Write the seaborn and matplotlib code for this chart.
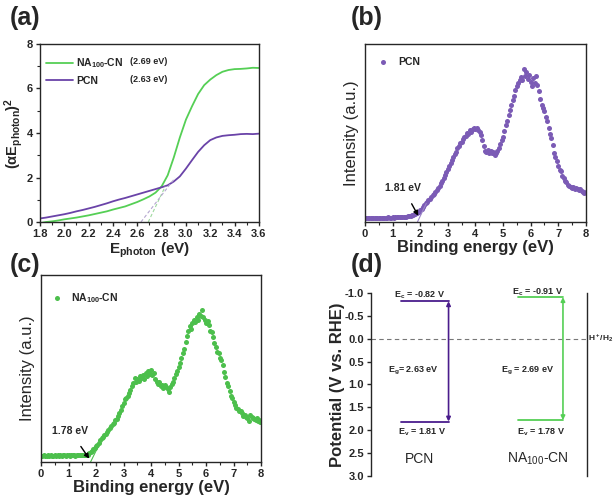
import numpy as np
import pandas as pd
import matplotlib
matplotlib.use("Agg")
import matplotlib.pyplot as plt
import seaborn as sns

sns.set_style("ticks")
plt.rcParams['font.family'] = ['Liberation Sans', 'DejaVu Sans']
plt.rcParams['mathtext.fontset'] = 'custom'
plt.rcParams['mathtext.rm'] = 'Liberation Sans:bold'
plt.rcParams['mathtext.bf'] = 'Liberation Sans:bold'
plt.rcParams['mathtext.it'] = 'Liberation Sans:bold'
plt.rcParams['mathtext.sf'] = 'Liberation Sans'
plt.rcParams['axes.linewidth'] = 1.0

# ---------------- data ----------------
# (a) Tauc plot
e_photon = [1.80, 1.85, 1.90, 1.95, 2.00, 2.05, 2.10, 2.15, 2.20, 2.25, 2.30, 2.35,
            2.40, 2.45, 2.50, 2.55, 2.60, 2.65, 2.70, 2.75, 2.80, 2.85, 2.90, 2.95,
            3.00, 3.05, 3.10, 3.15, 3.20, 3.25, 3.30, 3.35, 3.40, 3.45, 3.50, 3.55, 3.60]
tauc_na = [-0.05, 0.00, 0.03, 0.07, 0.12, 0.16, 0.20, 0.25, 0.30, 0.36, 0.42, 0.48,
           0.56, 0.63, 0.70, 0.80, 0.90, 1.02, 1.15, 1.32, 1.60, 2.10, 2.90, 3.80,
           4.60, 5.20, 5.75, 6.15, 6.40, 6.60, 6.75, 6.83, 6.87, 6.88, 6.90, 6.93, 6.92]
tauc_pcn = [0.16, 0.20, 0.25, 0.30, 0.35, 0.41, 0.48, 0.54, 0.61, 0.68, 0.76, 0.84,
            0.93, 1.01, 1.08, 1.16, 1.24, 1.32, 1.40, 1.48, 1.56, 1.65, 1.82, 2.05,
            2.40, 2.78, 3.15, 3.45, 3.68, 3.80, 3.87, 3.90, 3.92, 3.95, 3.96, 3.95, 3.97]
tan_na_x = [2.69, 2.83]
tan_na_y = [0.0, 1.6]
tan_pcn_x = [2.63, 2.91]
tan_pcn_y = [0.0, 1.98]

# (b)/(c) VB-XPS
binding = [round(0.05 * i, 2) for i in range(161)]
vb_pcn = [2.2, 2.0, 2.3, 2.1, 2.2, 2.4, 2.1, 2.3, 2.2, 2.5, 2.3, 2.2, 2.4, 2.3, 2.5, 2.4,
          2.3, 2.6, 2.5, 2.4, 2.6, 2.5, 2.7, 2.6, 2.8, 2.7, 2.9, 2.8, 3.0, 3.1, 3.0, 3.3,
          3.4, 3.6, 3.8, 4.0, 4.3, 4.8, 5.2, 5.8, 6.5, 7.5, 8.6, 9.8, 10.7, 11.5, 12.4, 13.0,
          14.2, 15.0, 15.8, 17.0, 18.2, 19.0, 20.5, 21.8, 23.0, 24.6, 26.5, 28.3, 30.0, 31.5,
          33.2, 35.0, 36.5, 38.0, 39.5, 41.5, 42.5, 44.5, 45.0, 46.8, 47.5, 48.5, 50.0, 49.5,
          51.5, 50.5, 52.5, 53.0, 52.0, 53.0, 51.5, 50.5, 49.0, 46.0, 42.5, 40.0, 39.5, 40.5,
          39.0, 40.0, 38.5, 39.5, 37.5, 39.0, 40.0, 41.5, 44.0, 46.0, 48.0, 51.0, 54.5, 57.0,
          60.0, 63.0, 66.0, 68.5, 71.0, 74.0, 76.5, 78.0, 79.5, 81.5, 80.0, 86.0, 82.0, 84.0,
          80.5, 82.5, 78.5, 76.5, 81.0, 78.0, 82.0, 77.0, 73.5, 69.0, 66.0, 64.0, 62.5, 59.0,
          56.5, 53.0, 49.5, 47.0, 43.0, 39.0, 36.5, 34.0, 31.5, 29.0, 28.5, 26.0, 25.0, 23.0,
          22.5, 21.0, 20.0, 19.5, 19.0, 19.5, 18.5, 19.0, 18.5, 18.0, 18.5, 17.5, 17.0, 16.5,
          17.0]
vb_na = [3.4, 3.2, 3.5, 3.3, 3.4, 3.6, 3.3, 3.5, 3.4, 3.2, 3.5, 3.4, 3.6, 3.3, 3.5, 3.4,
         3.6, 3.5, 3.3, 3.6, 3.5, 3.4, 3.7, 3.5, 3.6, 3.4, 3.7, 3.5, 3.6, 3.8, 3.6, 3.7,
         3.6, 3.6, 4.0, 4.6, 5.4, 6.0, 6.8, 7.6, 8.5, 9.3, 10.2, 11.5, 12.6, 13.3, 14.5, 15.2,
         16.3, 17.0, 18.0, 19.0, 20.2, 21.0, 22.4, 23.2, 24.5, 26.0, 28.0, 30.0, 31.5, 33.5,
         34.0, 35.5, 37.0, 38.5, 40.5, 42.0, 45.0, 43.0, 44.5, 43.5, 46.0, 45.0, 46.5, 44.5,
         47.5, 46.0, 48.5, 47.0, 49.0, 46.5, 47.5, 44.5, 43.0, 41.5, 42.5, 40.5, 41.0, 39.5,
         41.0, 40.0, 39.0, 37.5, 40.0, 41.5, 43.0, 45.0, 47.0, 48.5, 51.0, 53.0, 55.5, 58.5,
         60.5, 64.0, 67.5, 70.0, 72.5, 71.0, 74.5, 76.0, 75.0, 77.5, 76.0, 79.0, 78.0, 81.0,
         77.5, 76.0, 74.5, 75.5, 73.0, 70.0, 69.5, 67.0, 63.5, 61.5, 59.0, 58.0, 55.5, 54.5,
         52.0, 48.0, 45.5, 42.0, 40.5, 38.0, 35.5, 34.0, 32.0, 30.5, 29.0, 28.5, 27.5, 27.0,
         26.0, 24.5, 25.0, 24.0, 23.5, 22.0, 25.0, 24.0, 23.5, 23.0, 22.5, 23.5, 22.0, 21.5,
         22.5]
tan_b_x = [1.90, 2.22]
tan_b_y = [0.0, 10.5]
tan_c_x = [1.80, 2.15]
tan_c_y = [0.0, 10.5]

# (d) band structure
samples = ["PCN", "NA$_{\\mathsf{100}}$-CN"]
e_cb = [-0.82, -0.91]
e_vb = [1.81, 1.78]
e_gap = [2.63, 2.69]

# colours
GREEN = "#55CF55"
GREEN_S = "#4CBF4C"
PURPLE = "#6A43A8"
PURPLE_S = "#7B5BB5"
PURPLE_D = "#4A1C8C"

fig = plt.figure(figsize=(6.15, 5.03), dpi=100)
ax_a = fig.add_axes([0.065, 0.5586, 0.356, 0.354])
ax_b = fig.add_axes([0.5935, 0.5586, 0.359, 0.354])
ax_c = fig.add_axes([0.0667, 0.0815, 0.358, 0.372])
ax_d = fig.add_axes([0.603, 0.0537, 0.351, 0.3638])

tickkw = dict(labelsize=8, width=1.0, length=3, direction='out', pad=2)

def boldticks(ax):
    for lab in ax.get_xticklabels() + ax.get_yticklabels():
        lab.set_fontweight('bold')

# ---- (a) ----
df_a = pd.DataFrame({"E": e_photon * 2,
                     "v": tauc_na + tauc_pcn,
                     "s": ["NA$_{100}$-CN"] * len(e_photon) + ["PCN"] * len(e_photon)})
sns.lineplot(data=df_a, x="E", y="v", hue="s", palette=[GREEN, PURPLE], lw=1.3, ax=ax_a)
sns.lineplot(x=tan_na_x, y=tan_na_y, color="#9FD89F", lw=0.8, ls=(0, (3, 2)), ax=ax_a)
sns.lineplot(x=tan_pcn_x, y=tan_pcn_y, color="#B4A6CF", lw=0.8, ls=(0, (3, 2)), ax=ax_a)
ax_a.set_xlim(1.8, 3.6)
ax_a.set_ylim(0, 8)
ax_a.set_xticks(np.arange(1.8, 3.61, 0.2))
ax_a.set_yticks([0, 2, 4, 6, 8])
ax_a.set_xticks(np.arange(1.9, 3.6, 0.2), minor=True)
ax_a.set_yticks([1, 3, 5, 7], minor=True)
ax_a.tick_params(**tickkw)
ax_a.tick_params(which='minor', length=2, width=0.8)
boldticks(ax_a)
ax_a.set_xlabel("E$_{photon}$ (eV)", fontsize=11, fontweight='bold', labelpad=1)
ax_a.set_ylabel("(αE$_{photon}$)$^2$", fontsize=10.5, fontweight='bold', labelpad=1)
leg = ax_a.legend(loc='upper left', bbox_to_anchor=(0.0, 0.965), frameon=False,
                  fontsize=7.5, handlelength=2.6, handletextpad=0.3, labelspacing=0.55,
                  borderaxespad=0.2)
for t in leg.get_texts():
    t.set_fontweight('bold')
ax_a.text(0.41, 0.899, "(2.69 eV)", transform=ax_a.transAxes, fontsize=6.5,
          fontweight='bold', va='center')
ax_a.text(0.41, 0.798, "(2.63 eV)", transform=ax_a.transAxes, fontsize=6.5,
          fontweight='bold', va='center')

# ---- (b) ----
sns.scatterplot(x=binding, y=vb_pcn, color=PURPLE_S, s=13, linewidth=0, ax=ax_b)
sns.lineplot(x=tan_b_x, y=tan_b_y, color="#9C86C9", lw=0.8, ax=ax_b)
ax_b.scatter([0.65], [90], color=PURPLE_S, s=13, linewidth=0)
ax_b.text(1.2, 90, "PCN", fontsize=7.5, fontweight='bold', va='center')
ax_b.annotate("1.81 eV", xy=(1.93, 3.5), xytext=(1.38, 19), fontsize=7.5,
              fontweight='bold', ha='center', va='center',
              arrowprops=dict(arrowstyle='-|>', color='black', lw=1.0,
                              mutation_scale=7, shrinkA=6, shrinkB=0))
ax_b.set_xlim(0, 8)
ax_b.set_ylim(0, 100)
ax_b.set_yticks([])
ax_b.set_xticks(range(0, 9))
ax_b.set_xticks(np.arange(0.5, 8, 1), minor=True)
ax_b.tick_params(**tickkw)
ax_b.tick_params(which='minor', length=2, width=0.8)
boldticks(ax_b)
ax_b.set_xlabel("Binding energy (eV)", fontsize=12, fontweight='bold', labelpad=1)
ax_b.set_ylabel("Intensity (a.u.)", fontsize=12, labelpad=4)

# ---- (c) ----
sns.scatterplot(x=binding, y=vb_na, color=GREEN_S, s=13, linewidth=0, ax=ax_c)
sns.lineplot(x=tan_c_x, y=tan_c_y, color=GREEN_S, lw=0.8, ax=ax_c)
ax_c.scatter([0.58], [87.5], color=GREEN_S, s=13, linewidth=0)
ax_c.text(1.1, 87.5, "NA$_{100}$-CN", fontsize=7.5, fontweight='bold', va='center')
ax_c.annotate("1.78 eV", xy=(1.75, 1.8), xytext=(1.07, 16.4), fontsize=7.5,
              fontweight='bold', ha='center', va='center',
              arrowprops=dict(arrowstyle='-|>', color='black', lw=1.0,
                              mutation_scale=7, shrinkA=6, shrinkB=0))
ax_c.set_xlim(0, 8)
ax_c.set_ylim(0, 100)
ax_c.set_yticks([])
ax_c.set_xticks(range(0, 9))
ax_c.set_xticks(np.arange(0.5, 8, 1), minor=True)
ax_c.tick_params(**tickkw)
ax_c.tick_params(which='minor', length=2, width=0.8)
boldticks(ax_c)
ax_c.set_xlabel("Binding energy (eV)", fontsize=12, fontweight='bold', labelpad=1)
ax_c.set_ylabel("Intensity (a.u.)", fontsize=12, labelpad=4)

# ---- (d) ----
x_left = [0.14, 0.68]
x_right = [0.36, 0.89]
cols_d = [PURPLE_D, GREEN]
ax_d.axhline(0.0, color='#777777', lw=0.8, ls=(0, (4, 3)))
for i in range(2):
    sns.lineplot(x=[x_left[i], x_right[i]], y=[e_cb[i], e_cb[i]], color=cols_d[i], lw=1.3, ax=ax_d)
    sns.lineplot(x=[x_left[i], x_right[i]], y=[e_vb[i], e_vb[i]], color=cols_d[i], lw=1.3, ax=ax_d)
    ax_d.annotate("", xy=(x_right[i], e_cb[i]), xytext=(x_right[i], e_vb[i]),
                  arrowprops=dict(arrowstyle='<|-|>', color=cols_d[i], lw=1.2,
                                  mutation_scale=6, shrinkA=0, shrinkB=0))
lab_x = [0.227, 0.77]
for i in range(2):
    ax_d.text(lab_x[i], e_cb[i] - 0.12 if i == 0 else -1.02, f"E$_c$ = {e_cb[i]:.2f} V",
              fontsize=6.5, fontweight='bold', ha='center', va='center')
    ax_d.text(lab_x[i] - 0.03 - (0.013 if i == 1 else 0), 0.70,
              f"E$_g$= {e_gap[i]:.2f} eV" if i == 0 else f"E$_g$ = {e_gap[i]:.2f} eV",
              fontsize=6.5, fontweight='bold', ha='center', va='center')
    ax_d.text(lab_x[i] + 0.01 + (0.01 if i == 1 else 0), 2.04, f"E$_v$ = {e_vb[i]:.2f} V",
              fontsize=6.5, fontweight='bold', ha='center', va='center')
ax_d.text(0.227, 2.63, samples[0], fontsize=10, ha='center', va='center')
ax_d.text(0.773, 2.63, samples[1], fontsize=10, ha='center', va='center')
ax_d.text(1.008, 0.0, "H$^+$/H$_2$", fontsize=6, fontweight='bold', ha='left', va='center',
          transform=ax_d.get_yaxis_transform(), clip_on=False)
ax_d.set_xlim(0, 1)
ax_d.set_ylim(3.0, -1.0)
ax_d.set_yticks(np.arange(-1.0, 3.01, 0.5))
ax_d.set_yticklabels([f"{v:.1f}" for v in np.arange(-1.0, 3.01, 0.5)])
ax_d.set_xticks([])
ax_d.spines['top'].set_visible(False)
ax_d.spines['bottom'].set_visible(False)
ax_d.tick_params(**tickkw)
boldticks(ax_d)
ax_d.set_ylabel("Potential (V vs. RHE)", fontsize=12, fontweight='bold', labelpad=0)
ax_d.set_xlabel("")

# panel labels
for lbl, (px, py) in zip(["(a)", "(b)", "(c)", "(d)"],
                         [(25, 18), (367, 18), (25, 265), (367, 265)]):
    fig.text(px / 615, 1 - py / 503, lbl, fontsize=18, fontweight='bold',
             ha='center', va='center')

fig.savefig("out.png", dpi=100)
